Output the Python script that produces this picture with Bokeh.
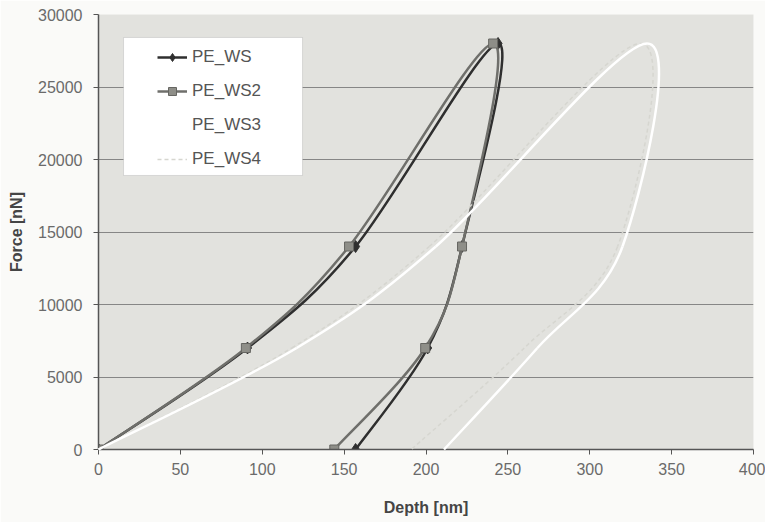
from bokeh.plotting import figure
from bokeh.models import (Range1d, SingleIntervalTicker, Legend, LegendItem,
                          ColumnDataSource, BoxAnnotation)
from bokeh.embed import file_html
from bokeh.resources import INLINE

# ---------------- data ----------------
force_levels = [0, 7000, 14000, 28000, 14000, 7000, 0]

ws_depth = [0, 91, 157, 244, 222, 201, 157]
ws_force = force_levels

ws2_depth = [0, 90, 153, 241, 222, 199.5, 144]
ws2_force = force_levels

ws3_depth = [0, 121, 206, 335, 320, 268, 211]
ws3_force = force_levels

ws4_depth = [0, 118, 202, 331, 317, 260, 191]
ws4_force = force_levels

x_ticks_step = 50
y_ticks_step = 5000

FONT = "Liberation Sans"


def smooth(xs, ys):
    """Bezier control points for a smoothed line through the points
    (the same style as a spreadsheet 'smoothed line')."""
    n = len(xs)
    out = dict(x0=[], y0=[], x1=[], y1=[], cx0=[], cy0=[], cx1=[], cy1=[])
    for i in range(n - 1):
        a = i - 1 if i > 0 else i
        d = i + 2 if i + 2 < n else i + 1
        out["x0"].append(xs[i]); out["y0"].append(ys[i])
        out["x1"].append(xs[i + 1]); out["y1"].append(ys[i + 1])
        out["cx0"].append(xs[i] + (xs[i + 1] - xs[a]) / 6.0)
        out["cy0"].append(ys[i] + (ys[i + 1] - ys[a]) / 6.0)
        out["cx1"].append(xs[i + 1] - (xs[d] - xs[i]) / 6.0)
        out["cy1"].append(ys[i + 1] - (ys[d] - ys[i]) / 6.0)
    return ColumnDataSource(out)


p = figure(width=765, height=522, output_backend="svg", toolbar_location=None,
           x_range=Range1d(0, 400), y_range=Range1d(0, 30000),
           min_border_left=98, min_border_right=12, min_border_top=14,
           min_border_bottom=73)

p.background_fill_color = "#e2e2de"
p.border_fill_color = "#fafaf8"
p.outline_line_color = None

p.xgrid.visible = False
p.ygrid.grid_line_color = "#868686"
p.ygrid.grid_line_width = 1

for ax in (p.xaxis[0], p.yaxis[0]):
    ax.axis_line_color = "#555555"
    ax.axis_line_width = 1.5
    ax.major_tick_line_color = "#555555"
    ax.major_tick_out = 5
    ax.major_tick_in = 0
    ax.minor_tick_line_color = None
    ax.major_label_text_font = FONT
    ax.major_label_text_font_size = "16px"
    ax.major_label_text_color = "#6a6a6a"
    ax.axis_label_text_font = FONT
    ax.axis_label_text_font_size = "16px"
    ax.axis_label_text_font_style = "bold"
    ax.axis_label_text_color = "#454545"

p.xaxis.ticker = SingleIntervalTicker(interval=x_ticks_step)
p.yaxis.ticker = SingleIntervalTicker(interval=y_ticks_step)
p.xaxis.axis_label = "Depth [nm]"
p.yaxis.axis_label = "Force [nN]"
p.yaxis.major_label_standoff = 11
p.xaxis.major_label_standoff = 8
p.yaxis.axis_label_standoff = 10
p.xaxis.axis_label_standoff = 21

# ---------------- series ----------------
ws_col = "#2f2f2f"
ws2_col = "#6f6f6b"

ws_line = p.bezier(x0="x0", y0="y0", x1="x1", y1="y1", cx0="cx0", cy0="cy0",
                   cx1="cx1", cy1="cy1", source=smooth(ws_depth, ws_force),
                   line_color=ws_col, line_width=2.5)
ws_pts = p.scatter(ws_depth, ws_force, marker="diamond", size=12,
                   fill_color=ws_col, line_color=ws_col)

ws2_line = p.bezier(x0="x0", y0="y0", x1="x1", y1="y1", cx0="cx0", cy0="cy0",
                    cx1="cx1", cy1="cy1", source=smooth(ws2_depth, ws2_force),
                    line_color=ws2_col, line_width=2.5)
ws2_pts = p.scatter(ws2_depth, ws2_force, marker="square", size=9,
                    fill_color="#8e8e88", line_color="#666662")

ws4_col = "#d6d6d0"
ws4_line = p.bezier(x0="x0", y0="y0", x1="x1", y1="y1", cx0="cx0", cy0="cy0",
                    cx1="cx1", cy1="cy1", source=smooth(ws4_depth, ws4_force),
                    line_color=ws4_col, line_width=1.5, line_dash="4 3",
                    level="annotation")

ws3_col = "#ffffff"
ws3_line = p.bezier(x0="x0", y0="y0", x1="x1", y1="y1", cx0="cx0", cy0="cy0",
                    cx1="cx1", cy1="cy1", source=smooth(ws3_depth, ws3_force),
                    line_color=ws3_col, line_width=2.5, level="annotation")

# legend frame
box = BoxAnnotation(left=15.3, right=124.6, bottom=18897, top=28414,
                    fill_color="white", fill_alpha=1.0,
                    line_color="#9a9a9a", line_width=1)
p.add_layout(box)

legend = Legend(items=[
    LegendItem(label="PE_WS", renderers=[ws_line, ws_pts]),
    LegendItem(label="PE_WS2", renderers=[ws2_line, ws2_pts]),
    LegendItem(label="PE_WS3", renderers=[ws3_line]),
    LegendItem(label="PE_WS4", renderers=[ws4_line]),
], location=(59, 280))
legend.background_fill_alpha = 0
legend.border_line_alpha = 0
legend.padding = 0
legend.margin = 0
legend.spacing = 14
legend.label_height = 20
legend.glyph_height = 20
legend.glyph_width = 30
legend.label_standoff = 5
legend.label_text_font = FONT
legend.label_text_font_size = "17px"
legend.label_text_color = "#555555"
p.add_layout(legend, "center")

open("out.html", "w").write(file_html(p, INLINE))
